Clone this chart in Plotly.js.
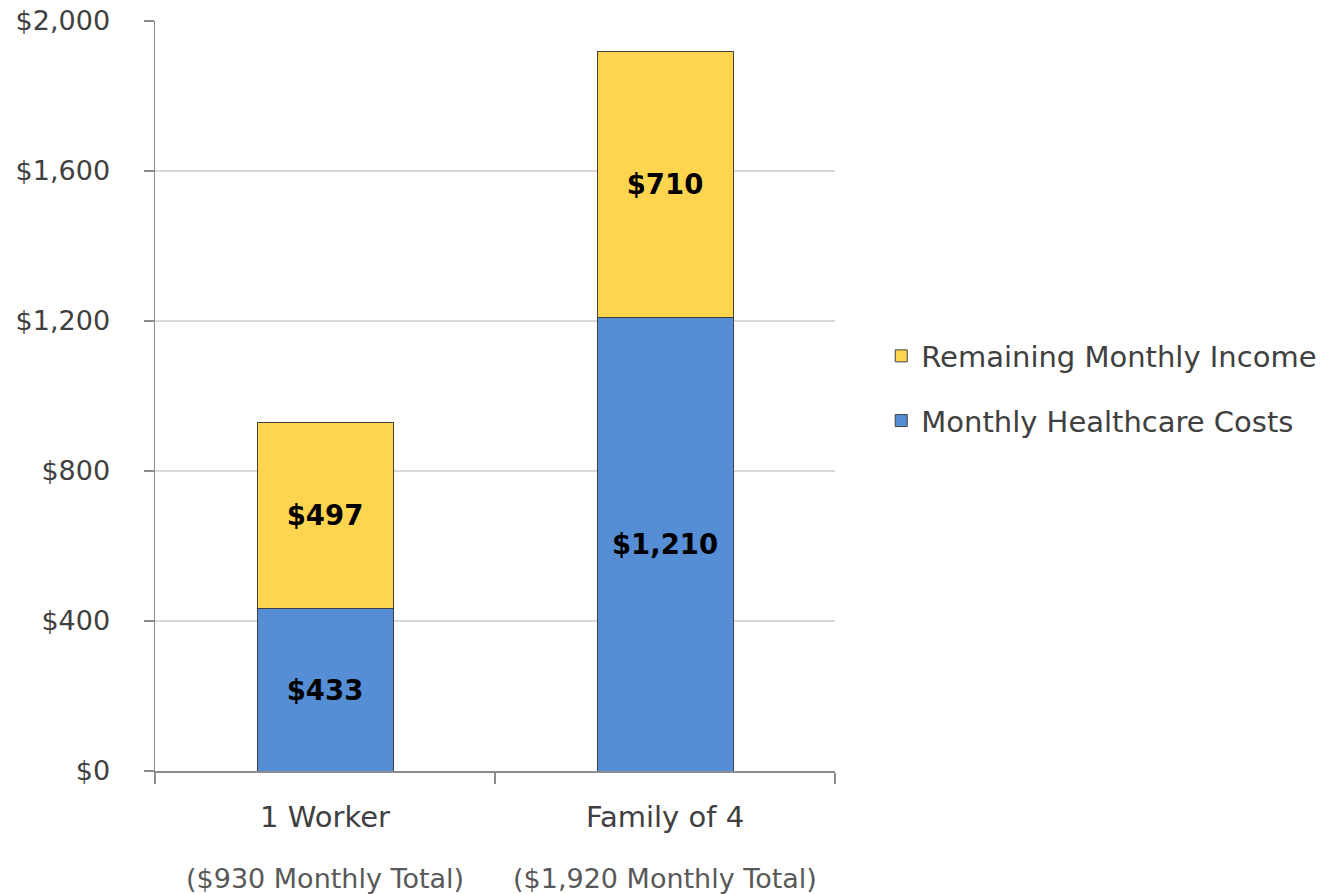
<!DOCTYPE html>
<html>
<head>
<meta charset="utf-8">
<script src="https://cdn.plot.ly/plotly-3.0.1.min.js"></script>
<style>html,body{margin:0;padding:0;background:#fff;}#chart{width:1325px;height:894px;}</style>
</head>
<body>
<div id="chart"></div>
<script>
var categories = ["1 Worker", "Family of 4"];
var subLabels = ["($930 Monthly Total)", "($1,920 Monthly Total)"];
var healthcareCosts = [433, 1210];
var remainingIncome = [497, 710];
var yTickVals = [0, 400, 800, 1200, 1600, 2000];
var yTickText = ["$0", "$400", "$800", "$1,200", "$1,600", "$2,000"];

var FONT = "DejaVu Sans";
var traces = [
  {
    type: "bar", name: "Monthly Healthcare Costs", legendgroup: "a", legendrank: 2,
    x: categories, y: healthcareCosts, width: 0.4,
    marker: {color: "#558ED5", line: {color: "#404040", width: 1}},
    texttemplate: "$%{y:,}", textposition: "inside", insidetextanchor: "middle",
    constraintext: "none",
    textfont: {family: FONT, size: 27.5, color: "#000", weight: "bold"},
    hoverinfo: "skip"
  },
  {
    type: "bar", name: "Remaining Monthly Income", legendgroup: "b", legendrank: 1,
    x: categories, y: remainingIncome, width: 0.4,
    marker: {color: "#FFD54F", line: {color: "#404040", width: 1}},
    texttemplate: "$%{y:,}", textposition: "inside", insidetextanchor: "middle",
    constraintext: "none",
    textfont: {family: FONT, size: 27.5, color: "#000", weight: "bold"},
    hoverinfo: "skip"
  }
];

var annotations = categories.map(function(c, i){
  return {x: c, xref: "x", y: -0.143, yref: "paper", text: subLabels[i], showarrow: false,
          xanchor: "center", yanchor: "middle", font: {family: FONT, size: 27, color: "#595959"}};
});

var layout = {
  width: 1325, height: 894,
  margin: {l: 155, r: 490, t: 21, b: 123, autoexpand: false},
  paper_bgcolor: "#fff", plot_bgcolor: "#fff",
  barmode: "stack",
  font: {family: FONT, size: 27, color: "#404040"},
  showlegend: true,
  legend: {x: 1.068, xanchor: "left", y: 0.51, yanchor: "middle",
           traceorder: "grouped", tracegroupgap: 24,
           font: {family: FONT, size: 29, color: "#404040"}},
  xaxis: {
    type: "category", range: [-0.5, 1.5],
    showgrid: false, showline: true, linecolor: "#8c8c8c", linewidth: 1.5,
    ticks: "outside", tickson: "boundaries", ticklen: 11, tickcolor: "#8c8c8c", tickwidth: 1.5,
    ticklabelstandoff: 20,
    tickfont: {family: FONT, size: 29, color: "#404040"}
  },
  yaxis: {
    range: [0, 2000], tickvals: yTickVals, ticktext: yTickText,
    showgrid: true, gridcolor: "#d9d9d9", gridwidth: 1.5,
    showline: true, linecolor: "#8c8c8c", linewidth: 1.5,
    ticks: "outside", ticklen: 10, tickcolor: "#8c8c8c", tickwidth: 1.5,
    ticklabelstandoff: 28, zeroline: false,
    tickfont: {family: FONT, size: 27, color: "#404040"}
  },
  annotations: annotations
};

Plotly.newPlot("chart", traces, layout, {displayModeBar: false, staticPlot: true});
</script>
</body>
</html>
